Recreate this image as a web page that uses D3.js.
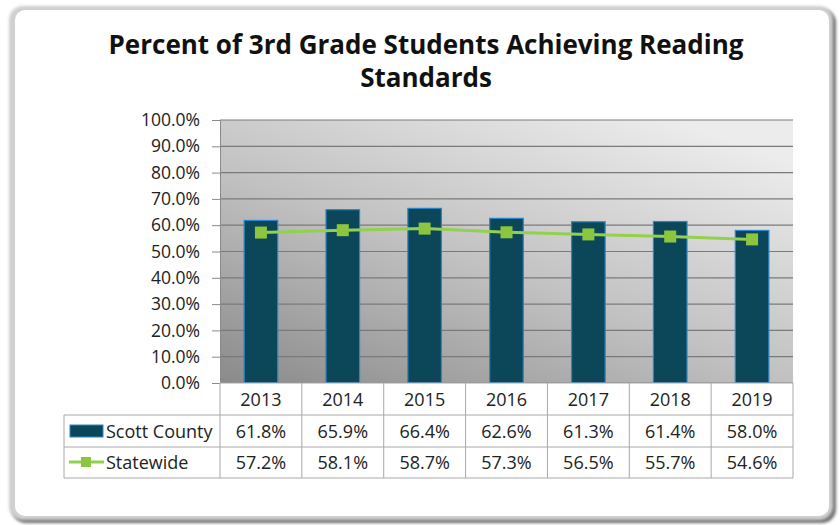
<!DOCTYPE html>
<html><head><meta charset="utf-8">
<script src="https://cdn.jsdelivr.net/npm/d3@7"></script>
<style>body{margin:0;background:#fff;}svg{display:block;font-family:"Open Sans",sans-serif;}</style>
</head><body>
<svg id="c" width="840" height="525"></svg>
<script>
const years = ["2013","2014","2015","2016","2017","2018","2019"];
const scottCounty = [61.8,65.9,66.4,62.6,61.3,61.4,58.0];
const statewide = [57.2,58.1,58.7,57.3,56.5,55.7,54.6];
const yTicks = [0,10,20,30,40,50,60,70,80,90,100];
const seriesNames = ["Scott County","Statewide"];
const titleLines = ["Percent of 3rd Grade Students Achieving Reading","Standards"];

const svg = d3.select("#c");
const defs = svg.append("defs");
const g1 = defs.append("linearGradient").attr("id","bg").attr("x1","0").attr("y1","1").attr("x2","0.8").attr("y2","0");
g1.append("stop").attr("offset","0").attr("stop-color","#8a8a8a");
g1.append("stop").attr("offset","0.5").attr("stop-color","#c2c2c2");
g1.append("stop").attr("offset","1").attr("stop-color","#ececec");
const fl = defs.append("filter").attr("id","sh").attr("x","-5%").attr("y","-5%").attr("width","110%").attr("height","110%");
fl.append("feGaussianBlur").attr("stdDeviation","1.5");

// frame
svg.append("rect").attr("x",12).attr("y",9).attr("width",824).attr("height",514).attr("rx",14)
  .attr("fill","#6e6e6e").attr("filter","url(#sh)");
svg.append("rect").attr("x",9).attr("y",6).attr("width",824).attr("height",514).attr("rx",14)
  .attr("fill","#d0d0d0").attr("filter","url(#sh)");
svg.append("rect").attr("x",15).attr("y",10).attr("width",814).attr("height",506).attr("rx",10)
  .attr("fill","#fff");

// title
svg.append("g").selectAll("text").data(titleLines).join("text")
  .attr("x",426).attr("y",(d,i)=>54+i*33).attr("text-anchor","middle")
  .attr("font-size",26).attr("font-weight","bold").attr("fill","#111").text(d=>d);

const X0=220, X1=793, Y0=120, Y1=383;
const x = d3.scaleBand().domain(years).range([X0,X1]);
const y = d3.scaleLinear().domain([0,100]).range([Y1,Y0]);

svg.append("rect").attr("x",X0).attr("y",Y0).attr("width",X1-X0).attr("height",Y1-Y0).attr("fill","url(#bg)");
svg.append("g").selectAll("line").data(yTicks).join("line")
  .attr("x1",X0).attr("x2",X1).attr("y1",d=>y(d)).attr("y2",d=>y(d))
  .attr("stroke","#7a7a7a").attr("stroke-width",1.2);

const yAxis = d3.axisLeft(y).tickValues(yTicks).tickFormat(d=>d.toFixed(1)+"%").tickSize(8).tickPadding(12);
const ya = svg.append("g").attr("transform",`translate(${X0},0)`).call(yAxis);
ya.select(".domain").attr("stroke","#8a8a8a");
ya.selectAll(".tick line").attr("stroke","#8a8a8a");
ya.selectAll("text").attr("font-size",17.5).attr("fill","#222").attr("font-family","Open Sans");

// bars
const bw = x.bandwidth()*0.41;
svg.append("g").selectAll("rect").data(scottCounty).join("rect")
  .attr("x",(d,i)=>x(years[i])+x.bandwidth()/2-bw/2).attr("width",bw)
  .attr("y",d=>y(d)).attr("height",d=>Y1-y(d))
  .attr("fill","#0c4659").attr("stroke","#2a86c8").attr("stroke-width",1.2);

// line
const line = d3.line().x((d,i)=>x(years[i])+x.bandwidth()/2).y(d=>y(d));
svg.append("path").datum(statewide).attr("d",line).attr("fill","none").attr("stroke","#92d050").attr("stroke-width",3);
svg.append("g").selectAll("rect").data(statewide).join("rect")
  .attr("x",(d,i)=>x(years[i])+x.bandwidth()/2-6).attr("y",d=>y(d)-6).attr("width",12).attr("height",12)
  .attr("fill","#8cc63f");

// table
const TL=64, rows=[383,415,447,478];
const fs=18;
const tb = svg.append("g");
tb.append("rect").attr("x",X0).attr("y",rows[0]).attr("width",X1-X0).attr("height",rows[3]-rows[0]).attr("fill","#fff");
tb.append("rect").attr("x",TL).attr("y",rows[1]).attr("width",X0-TL).attr("height",rows[3]-rows[1]).attr("fill","#fff");
const bc="#a8a8a8";
tb.append("line").attr("x1",X0).attr("x2",X1).attr("y1",rows[0]).attr("y2",rows[0]).attr("stroke",bc);
[1,2,3].forEach(r=>tb.append("line").attr("x1",TL).attr("x2",X1).attr("y1",rows[r]).attr("y2",rows[r]).attr("stroke",bc));
years.forEach(yr=>tb.append("line").attr("x1",x(yr)).attr("x2",x(yr)).attr("y1",rows[0]).attr("y2",rows[3]).attr("stroke",bc));
tb.append("line").attr("x1",X1).attr("x2",X1).attr("y1",rows[0]).attr("y2",rows[3]).attr("stroke",bc);
tb.append("line").attr("x1",TL).attr("x2",TL).attr("y1",rows[1]).attr("y2",rows[3]).attr("stroke",bc);

tb.selectAll("text.yr").data(years).join("text").attr("class","yr")
  .attr("x",d=>x(d)+x.bandwidth()/2).attr("y",(rows[0]+rows[1])/2+6.5).attr("text-anchor","middle")
  .attr("font-size",fs).attr("fill","#222").text(d=>d);
tb.selectAll("text.sc").data(scottCounty).join("text").attr("class","sc")
  .attr("x",(d,i)=>x(years[i])+x.bandwidth()/2).attr("y",(rows[1]+rows[2])/2+6.5).attr("text-anchor","middle")
  .attr("font-size",fs).attr("fill","#222").text(d=>d.toFixed(1)+"%");
tb.selectAll("text.sw").data(statewide).join("text").attr("class","sw")
  .attr("x",(d,i)=>x(years[i])+x.bandwidth()/2).attr("y",(rows[2]+rows[3])/2+6.5).attr("text-anchor","middle")
  .attr("font-size",fs).attr("fill","#222").text(d=>d.toFixed(1)+"%");

// legend keys
tb.append("rect").attr("x",70).attr("y",425).attr("width",33).attr("height",12)
  .attr("fill","#0c4659").attr("stroke","#2a86c8").attr("stroke-width",1);
tb.append("line").attr("x1",69).attr("x2",104).attr("y1",462).attr("y2",462).attr("stroke","#92d050").attr("stroke-width",3);
tb.append("rect").attr("x",81).attr("y",457).attr("width",10).attr("height",10).attr("fill","#8cc63f");
tb.selectAll("text.lg").data(seriesNames).join("text").attr("class","lg")
  .attr("x",106).attr("y",(d,i)=>(rows[1+i]+rows[2+i])/2+6.5)
  .attr("font-size",fs).attr("fill","#222")
  .text(d=>d);
</script>
</body></html>
